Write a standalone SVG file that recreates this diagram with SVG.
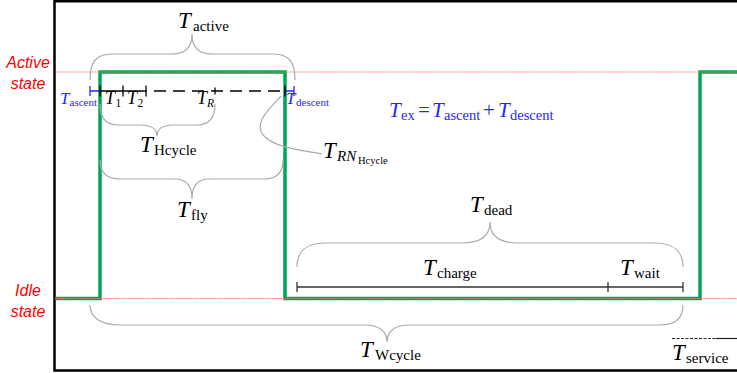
<svg xmlns="http://www.w3.org/2000/svg" width="737" height="373" viewBox="0 0 737 373">
<style>
.m{font-family:"Liberation Serif",serif;fill:#000}
.T{font-style:italic;font-size:23px}
.s{font-style:normal;font-size:15px}
.si{font-style:italic;font-size:15px}
.ss{font-style:normal;font-size:10.5px}
.b{fill:#2626ff}
.st{font-family:"Liberation Sans",sans-serif;font-style:italic;font-size:16px;fill:#ff0000;text-anchor:middle}
.brace{fill:none;stroke:#aaaaaa;stroke-width:1.2}
.red{stroke:#ff7070;stroke-width:0.9;stroke-dasharray:2 1;fill:none}
.tl{stroke:#000;stroke-width:1.3;fill:none}
.tg{stroke:#333;stroke-width:1.3;fill:none}
.bl{stroke:#2626ff;stroke-width:1.3;fill:none}
</style>
<rect x="0" y="0" width="737" height="373" fill="#fff"/>
<g id="frame">
<path d="M740,1.2 H54.5 V370.5 H740" fill="none" stroke="#000" stroke-width="2.5"/>
</g>
<g id="states">
<text class="st" x="28" y="68">Active</text>
<text class="st" x="28" y="89">state</text>
<text class="st" x="28" y="296">Idle</text>
<text class="st" x="28" y="317">state</text>
</g>
<g id="signal">
<path d="M55.5,298.5 H100 V72 H285 V298.5 H700 V72 H737" fill="none" stroke="#00a651" stroke-width="3.5"/>
<line class="red" x1="55.5" y1="72" x2="737" y2="72"/>
<line class="red" x1="55.5" y1="298.5" x2="737" y2="298.5"/>
</g>
<g id="connectors">
<path class="brace" d="M90,80 C90,62 96,54 112,54 L172,54 C185,54 192,48 192,34 C192,48 199,54 212,54 L273,54 C289,54 295,62 295,80"/>
<path class="brace" d="M100,104 C100,118 106,125 118,125 L140,125 C151,125 157,129 157,136 C157,129 163,125 174,125 L197,125 C209,125 215,118 215,104"/>
<path class="brace" d="M100,160 C100,172 106,179 120,179 L175,179 C187,179 192,186 192,199 C192,186 197,179 209,179 L264,179 C278,179 283,172 283,160"/>
<path class="brace" d="M281,96 C270,108 252,124 264,136 C276,148 300,150 322,154"/>
<path class="brace" d="M297,267 C297,253 305,243 325,243 L462,243 C480,243 490,236 490,222 C490,236 500,243 518,243 L655,243 C675,243 683,253 683,267"/>
<path class="brace" d="M90,305 C90,317 100,325 120,325 L365,325 C380,325 387,332 387,342 C387,332 394,325 409,325 L660,325 C676,325 683,317 683,305"/>
</g>
<g id="timeline-active">
<path class="bl" d="M90,91 H100 M90,86 V96 M285,91 H294 M294,86 V96"/>
<path class="tl" d="M100,91 H146 M100,85.5 V96.5 M123,85.5 V96.5 M146,85.5 V96.5 M215,87.5 V94.5 M285,85.5 V96.5"/>
<path class="tl" d="M146,91 H285" stroke-dasharray="12 7" stroke-dashoffset="-8"/>
</g>
<g id="timeline-dead">
<path class="tg" d="M297,287 H683 M297,282 V292 M608,282 V292 M683,282 V292"/>
</g>
<g id="service-line">
<path d="M672,338.5 H716" stroke="#222" stroke-width="1" stroke-dasharray="3 1.5" fill="none"/>
<path d="M716,338.5 H737" stroke="#222" stroke-width="1.2" fill="none"/>
</g>
<g id="label-active"><text class="m T" x="178" y="28">T<tspan class="s" x="193" y="31">active</tspan></text></g>
<g id="label-ascent"><text class="m b" x="60" y="104" style="font-style:italic;font-size:17px">T<tspan x="69.5" y="106" style="font-style:normal;font-size:11px">ascent</tspan></text></g>
<g id="label-t1"><text class="m" x="105" y="104" style="font-style:italic;font-size:18px">T<tspan x="115.5" y="107" style="font-style:normal;font-size:11.5px">1</tspan></text></g>
<g id="label-t2"><text class="m" x="127" y="104" style="font-style:italic;font-size:18px">T<tspan x="137.5" y="107" style="font-style:normal;font-size:11.5px">2</tspan></text></g>
<g id="label-tr"><text class="m" x="197" y="104" style="font-style:italic;font-size:18px">T<tspan x="207" y="107" style="font-size:11.5px">R</tspan></text></g>
<g id="label-descent"><text class="m b" x="286" y="104" style="font-style:italic;font-size:17px">T<tspan x="296" y="106" style="font-style:normal;font-size:11px">descent</tspan></text></g>
<g id="label-ex"><text class="m b" style="font-style:italic;font-size:21px" x="389" y="117">T<tspan x="401" y="120" style="font-style:normal;font-size:14.5px">ex</tspan><tspan x="418" y="117" style="font-style:normal">=</tspan><tspan x="432" y="117">T</tspan><tspan x="444" y="120" style="font-style:normal;font-size:14.5px">ascent</tspan><tspan x="483" y="117" style="font-style:normal">+</tspan><tspan x="498" y="117">T</tspan><tspan x="510" y="120" style="font-style:normal;font-size:14.5px">descent</tspan></text></g>
<g id="label-hcycle"><text class="m T" x="140" y="152">T<tspan class="s" x="154" y="155">Hcycle</tspan></text></g>
<g id="label-rn"><text class="m T" x="323" y="158">T<tspan class="si" x="337" y="161">RN</tspan><tspan class="ss" x="358" y="164">Hcycle</tspan></text></g>
<g id="label-fly"><text class="m T" x="177" y="217">T<tspan class="s" x="191" y="220">fly</tspan></text></g>
<g id="label-dead"><text class="m T" x="470" y="212">T<tspan class="s" x="484" y="215">dead</tspan></text></g>
<g id="label-charge"><text class="m T" x="423" y="275">T<tspan class="s" x="437" y="278">charge</tspan></text></g>
<g id="label-wait"><text class="m T" x="620" y="275">T<tspan class="s" x="634" y="278">wait</tspan></text></g>
<g id="label-wcycle"><text class="m T" x="360" y="357">T<tspan class="s" x="375" y="360">Wcycle</tspan></text></g>
<g id="label-service"><text class="m T" x="672" y="360">T<tspan class="s" x="686" y="363">service</tspan></text></g>
</svg>
